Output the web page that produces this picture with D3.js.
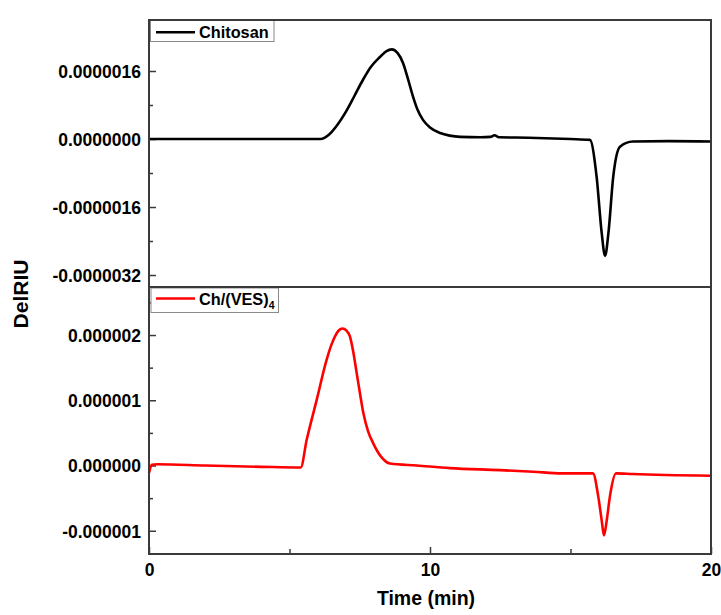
<!DOCTYPE html>
<head>
    <meta charset="utf-8">
    <style>
        body{
            margin:0;
            background:#fff;
        }
        svg{
            font-family: 'Liberation Sans', Arial, sans-serif;
            font-weight: bold;
        }
        .frame{
            fill:none;
            stroke:#3a3a3a;
            stroke-width:2px;
        }
        .tick line{
            stroke:#3a3a3a;
            stroke-width:1.5px;
        }
        .tick text{
            fill:#000;
            font-size:17.5px;
        }
        .line{
            fill:none;
            stroke-width:2.6px;
            stroke-linejoin:round;
        }
        .legend rect{
            fill:#fff;
            stroke:#8a8a8a;
            stroke-width:1px;
        }
    </style>
</head>
<body>
    <div id="chart"></div>
    <script src="https://d3js.org/d3.v7.min.js"></script>
    <script>
        // values in units of 1e-6 RIU
        var timeChitosan = [0, 2, 4, 6.1, 6.4, 6.7, 7.04, 7.3, 7.62, 7.9, 8.22, 8.45, 8.64, 8.85, 9.04, 9.2, 9.39, 9.55, 9.75, 10.0, 10.36, 10.7, 11.07, 11.8, 12.15, 12.3, 12.45, 13.5, 15.0, 15.69, 15.93, 16.11, 16.23, 16.35, 16.52, 16.76, 17.22, 18.5, 20];
        var chitosan = [0, 0, 0, 0, 0.1, 0.33, 0.68, 1.0, 1.40, 1.70, 1.93, 2.07, 2.11, 2.02, 1.79, 1.45, 1.01, 0.7, 0.45, 0.27, 0.14, 0.08, 0.05, 0.04, 0.05, 0.09, 0.04, 0.03, 0.0, -0.02, -0.89, -2.21, -2.75, -2.21, -0.89, -0.18, -0.06, -0.05, -0.06];

        var timeVes = [0, 0.1, 0.3, 2, 4, 5.4, 5.61, 5.97, 6.32, 6.5, 6.62, 6.75, 6.89, 7.02, 7.15, 7.27, 7.39, 7.51, 7.63, 7.8, 7.98, 8.25, 8.58, 9.53, 10.71, 12.49, 13.67, 14.69, 15.8, 15.99, 16.11, 16.19, 16.29, 16.4, 16.62, 17.22, 20];
        var ves = [-0.115, 0.01, 0.02, 0.0, -0.02, -0.03, 0.39, 1.01, 1.62, 1.86, 1.98, 2.07, 2.10, 2.07, 1.98, 1.74, 1.42, 1.10, 0.80, 0.52, 0.34, 0.14, 0.03, 0.0, -0.04, -0.07, -0.095, -0.12, -0.12, -0.48, -0.84, -1.07, -0.84, -0.48, -0.12, -0.13, -0.157];

        var topTicks = [1.6, 0, -1.6, -3.2];
        var topMinor = [2.4, 0.8, -0.8, -2.4];
        var botTicks = [2, 1, 0, -1];
        var botMinor = [2.5, 1.5, 0.5, -0.5];
        var xTicks = [0, 10, 20];
        var xMinor = [5, 15];

        var width = 721, height = 615;
        var pLeft = 149, pRight = 711, pTop = 20, pMid = 287, pBottom = 554;

        var svg = d3.select("#chart").append("svg")
            .attr("width", width)
            .attr("height", height);

        var x = d3.scaleLinear().domain([0, 20]).range([pLeft, pRight]);
        var yTop = d3.scaleLinear().domain([-3.482, 2.8]).range([pMid, pTop]);
        var yBot = d3.scaleLinear().domain([-1.356, 2.736]).range([pBottom, pMid]);

        function drawY(scale, major, minor, digits){
            svg.append("g")
                .attr("transform", "translate(" + pLeft + ",0)")
                .call(d3.axisRight(scale).tickValues(minor).tickSize(4).tickFormat(""))
                .call(function(g){ g.select(".domain").remove(); });
            var ax = svg.append("g")
                .attr("transform", "translate(" + pLeft + ",0)")
                .call(d3.axisRight(scale).tickValues(major).tickSize(7)
                    .tickFormat(function(d){ return (d / 1e6).toFixed(digits); }))
                .call(function(g){ g.select(".domain").remove(); });
            ax.selectAll(".tick text")
                .attr("x", -8)
                .attr("text-anchor", "end")
                .attr("dy", "0.36em");
        }

        drawY(yTop, topTicks, topMinor, 7);
        drawY(yBot, botTicks, botMinor, 6);

        // x axis (bottom panel only)
        svg.append("g")
            .attr("transform", "translate(0," + pBottom + ")")
            .call(d3.axisTop(x).tickValues(xMinor).tickSize(5).tickFormat(""))
            .call(function(g){ g.select(".domain").remove(); });
        var xa = svg.append("g")
            .attr("transform", "translate(0," + pBottom + ")")
            .call(d3.axisTop(x).tickValues(xTicks).tickSize(7).tickFormat(d3.format("d")))
            .call(function(g){ g.select(".domain").remove(); });
        xa.selectAll(".tick text")
            .attr("y", 22)
            .attr("dy", 0)
            .attr("text-anchor", "middle");

        var line = function(scale){
            return d3.line()
                .x(function(d){ return x(d[0]); })
                .y(function(d){ return scale(d[1]); })
                .curve(d3.curveMonotoneX);
        };

        svg.append("path")
            .datum(d3.zip(timeChitosan, chitosan))
            .attr("class", "line")
            .attr("stroke", "#000")
            .attr("d", line(yTop));

        svg.append("path")
            .datum(d3.zip(timeVes, ves))
            .attr("class", "line")
            .attr("stroke", "#ff0000")
            .attr("d", line(yBot));

        // legends
        var lg1 = svg.append("g").attr("class", "legend");
        lg1.append("rect").attr("x", 150.5).attr("y", 20.5).attr("width", 123.5).attr("height", 21);
        lg1.append("line").attr("x1", 156).attr("x2", 195).attr("y1", 32.3).attr("y2", 32.3)
            .attr("stroke", "#000").attr("stroke-width", 2.6);
        lg1.append("text").attr("x", 199).attr("y", 37.5).attr("font-size", 16.3).text("Chitosan");

        var lg2 = svg.append("g").attr("class", "legend");
        lg2.append("rect").attr("x", 151).attr("y", 288).attr("width", 127.5).attr("height", 24.5);
        lg2.append("line").attr("x1", 156).attr("x2", 195).attr("y1", 298.5).attr("y2", 298.5)
            .attr("stroke", "#ff0000").attr("stroke-width", 2.6);
        var t2 = lg2.append("text").attr("x", 199).attr("y", 305).attr("font-size", 16.3);
        t2.append("tspan").text("Ch/(VES)");
        t2.append("tspan").attr("dy", 4).attr("font-size", 10.5).text("4");

        // frames
        svg.append("path").attr("class", "frame")
            .attr("d", "M" + pLeft + "," + pMid + "V" + pTop + "H" + pRight + "V" + pBottom + "H" + pLeft + "V" + pMid + "H" + pRight);

        // axis titles
        svg.append("text")
            .attr("x", 426).attr("y", 605)
            .attr("text-anchor", "middle")
            .attr("font-size", 19.5)
            .text("Time (min)");

        svg.append("text")
            .attr("transform", "translate(28,294) rotate(-90)")
            .attr("text-anchor", "middle")
            .attr("font-size", 21)
            .text("DelRIU");
    </script>
</body>
